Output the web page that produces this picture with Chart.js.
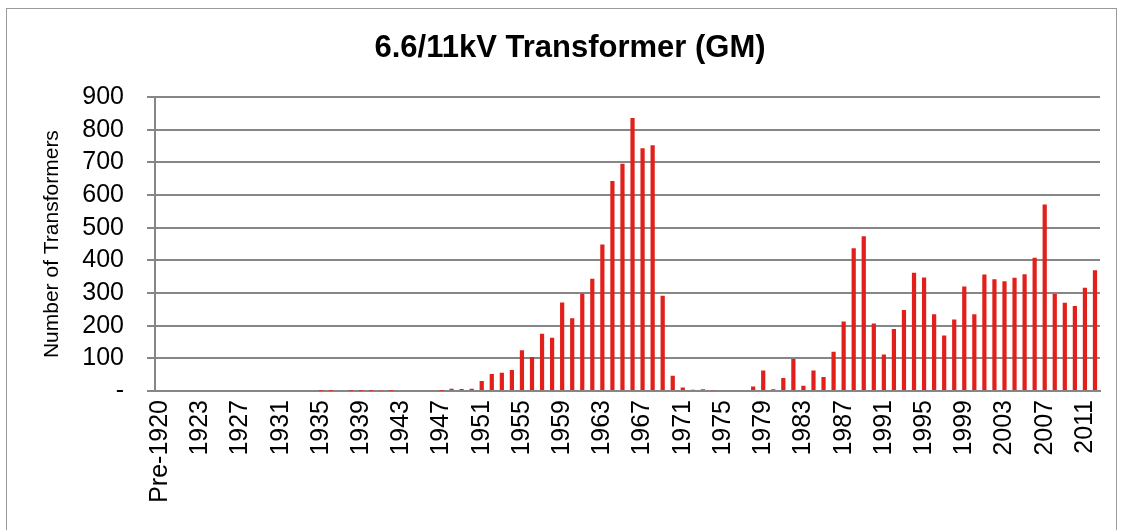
<!DOCTYPE html>
<html>
<head>
<meta charset="utf-8">
<script src="https://cdn.jsdelivr.net/npm/chart.js@4.4.0/dist/chart.umd.min.js"></script>
<style>
  body { margin: 0; background: #fff; }
  .frame { position: absolute; left: 6px; top: 8px; width: 1111px; height: 540px; border: 1px solid #9a9a9a; box-sizing: border-box; }
  .wrap { position: absolute; left: 0; top: 0; width: 1122px; height: 530px; }
</style>
</head>
<body>
<div class="frame"></div>
<div class="wrap"><canvas id="myChart" width="1122" height="530"></canvas></div>
<script>
// chart data
const years = ['Pre-1920']
for (let y = 1920; y <= 2012; y++) years.push(String(y))

// 1920 - 1946
const early = [0, 0, 0, 0, 0, 0, 0, 0, 0, 0, 0, 0, 0, 0, 0,
    1, 1, 3, 1, 1, 1, 2, 1, 0, 0, 0, 0]
// 1947 - 1977
const middle = [1, 7, 6, 7, 31, 52, 56, 64, 125, 104, 175, 163, 271, 223, 298, 344,
    449, 643, 696, 836, 744, 753, 292, 47, 11, 4, 5, 2, 0, 0, 0]
// 1978 - 2012
const late = [14, 63, 5, 40, 98, 16, 63, 43, 120, 213, 437, 474, 207, 112, 190, 248,
    362, 348, 235, 170, 219, 320, 235, 357, 342, 336, 347, 358, 408, 571, 297, 270,
    260, 316, 370]

const preValue = [0]
const counts = preValue.concat(early, middle, late)

const yTicks = [0, 100, 200, 300, 400, 500, 600, 700, 800, 900]

const chartManagement = function () {
    const ctx = document.getElementById('myChart')
    new Chart(ctx, {
        type: 'bar',
        data: {
            labels: years,
            datasets: [{
                label: 'Transformers',
                data: counts,
                backgroundColor: '#E2201B',
                barPercentage: 0.42,
                categoryPercentage: 1
            }]
        },
        options: {
            responsive: false,
            animation: false,
            layout: { padding: { left: 40, right: 22, top: 0, bottom: 0 } },
            plugins: {
                legend: { display: false },
                tooltip: { enabled: false },
                title: {
                    display: true,
                    text: '6.6/11kV Transformer (GM)',
                    color: '#000',
                    font: { family: 'Liberation Sans, Arial', size: 31, weight: 'bold' },
                    padding: { top: 30, bottom: 30 }
                }
            },
            scales: {
                x: {
                    grid: { display: false, drawTicks: false },
                    border: { color: '#868686', width: 2 },
                    ticks: {
                        autoSkip: false,
                        minRotation: 90,
                        maxRotation: 90,
                        padding: 9,
                        color: '#000',
                        font: { family: 'Liberation Sans, Arial', size: 25 },
                        callback: function (val, i) {
                            return i % 4 === 0 ? years[i] : ''
                        }
                    },
                    afterFit: function (scale) {
                        scale.height = 139
                        scale.paddingLeft = 0
                        scale.paddingRight = 0
                    }
                },
                y: {
                    min: 0,
                    max: 900,
                    afterBuildTicks: function (scale) {
                        scale.ticks = yTicks.map(v => ({ value: v }))
                    },
                    grid: { color: '#868686', lineWidth: 2, tickLength: 8 },
                    border: { color: '#868686', width: 2 },
                    ticks: {
                        autoSkip: false,
                        padding: 23,
                        color: '#000',
                        font: { family: 'Liberation Sans, Arial', size: 25 },
                        callback: function (v) { return v === 0 ? '-' : v }
                    },
                    title: {
                        display: true,
                        text: 'Number of Transformers',
                        color: '#000',
                        font: { family: 'Liberation Sans, Arial', size: 21 },
                        padding: { top: 0, bottom: 0 }
                    },
                    afterFit: function (scale) { scale.width = 115 }
                }
            }
        }
    })
}
chartManagement()
</script>
</body>
</html>
